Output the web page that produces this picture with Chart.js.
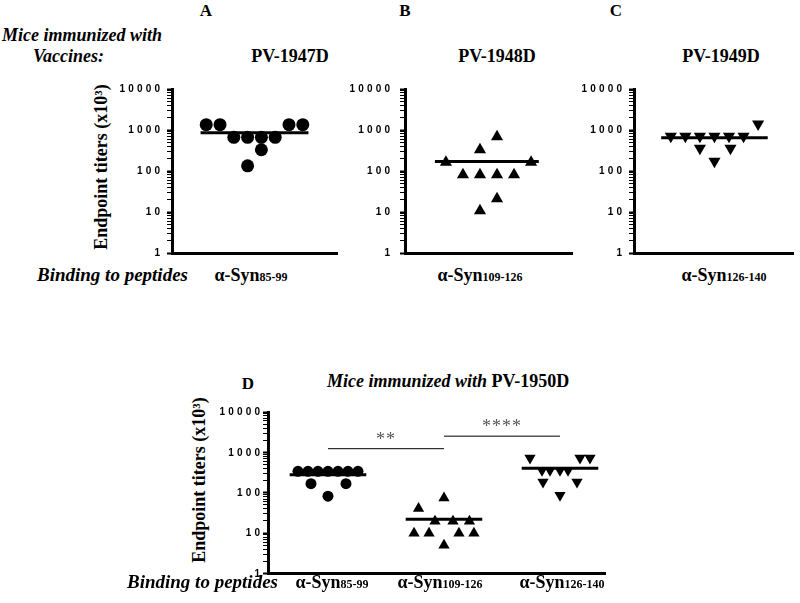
<!DOCTYPE html>
<html>
<head>
<meta charset="utf-8">
<script src="https://cdn.jsdelivr.net/npm/chart.js@4.4.1/dist/chart.umd.min.js"></script>
<style>
body { margin: 0; width: 800px; height: 603px; position: relative; overflow: hidden; background: #fff; color: #000;
       font-family: "Liberation Serif", "Times New Roman", serif; }
canvas { position: absolute; }
.t { position: absolute; white-space: nowrap; font-weight: bold; line-height: 1; font-size: 18px; }
.c { transform: translateX(-50%); }
.i { font-style: italic; }
.b19 { font-size: 19px; }
.sub { font-size: 12px; }
.yt { position: absolute; white-space: nowrap; font-weight: bold; font-size: 18px; line-height: 18px;
      transform: translate(-50%, -50%) rotate(-90deg); }
</style>
</head>
<body>
<div class="t c" style="left:206px;top:2px;font-size:17px">A</div>
<div class="t c" style="left:405px;top:2px;font-size:17px">B</div>
<div class="t c" style="left:616px;top:2px;font-size:17px">C</div>
<div class="t i" style="left:2px;top:26px">Mice immunized with</div>
<div class="t i" style="left:33px;top:47px">Vaccines:</div>
<div class="t c" style="left:290px;top:47px">PV-1947D</div>
<div class="t c" style="left:497px;top:47px">PV-1948D</div>
<div class="t c" style="left:721px;top:47px">PV-1949D</div>

<div class="yt" style="left:101px;top:167px">Endpoint titers (x10³)</div>
<canvas id="cA" width="245" height="185" style="left:100px;top:75px"></canvas>
<canvas id="cB" width="230" height="185" style="left:350px;top:75px"></canvas>
<canvas id="cC" width="220" height="185" style="left:580px;top:75px"></canvas>

<div class="t i b19" style="left:37px;top:265px">Binding to peptides</div>
<div class="t c" style="left:251px;top:266px">α-Syn<span class="sub">85-99</span></div>
<div class="t c" style="left:480px;top:266px">α-Syn<span class="sub">109-126</span></div>
<div class="t c" style="left:724px;top:266px">α-Syn<span class="sub">126-140</span></div>

<div class="t c" style="left:248px;top:375px;font-size:17px">D</div>
<div class="t" style="left:327px;top:372px"><span class="i">Mice immunized with</span> PV-1950D</div>
<div class="yt" style="left:199px;top:480px">Endpoint titers (x10³)</div>
<canvas id="cD" width="415" height="185" style="left:200px;top:395px"></canvas>

<div class="t i b19" style="left:127px;top:572px">Binding to peptides</div>
<div class="t c" style="left:332px;top:573px">α-Syn<span class="sub">85-99</span></div>
<div class="t c" style="left:440px;top:573px">α-Syn<span class="sub">109-126</span></div>
<div class="t c" style="left:562px;top:573px">α-Syn<span class="sub">126-140</span></div>

<script>
// endpoint titers (x10^3), one value per mouse
// slots = beeswarm column of each point (in marker widths from the group centre)
const titersA = [1350, 1350, 1350, 1350, 664, 664, 664, 664, 330, 134];
const slotsA  = [-3.5, -2.5, 2.5, 3.5, -1.5, -0.5, 0.5, 1.5, 0.5, -0.5];

const titersB = [163, 163, 330, 687, 81, 81, 81, 81, 21, 10.7];
const slotsB  = [-2.5, 2.5, -0.5, 0.5, -1.5, -0.5, 0.5, 1.5, 0.5, -0.5];

const titersC = [702, 702, 702, 702, 702, 702, 1400, 358, 358, 172];
const slotsC  = [-3, -2, -1, 0, 1, 2, 3, -1, 1.1, 0];

// panel D: PV-1950D sera against the three peptides
const peptidesD = ['α-Syn85-99', 'α-Syn109-126', 'α-Syn126-140'];
const titersD85  = [340, 340, 340, 340, 340, 340, 340, 168, 168, 82];
const slotsD85   = [-3, -2, -1, 0, 1, 2, 3, -1.7, 1.8, 0];
const titersD109 = [74.5, 40.7, 19.8, 19.8, 19.8, 9.9, 9.9, 9.9, 9.9, 5.0];
const slotsD109  = [0, -1.7, -0.6, 0.6, 1.7, -2, -1, 1, 2, 0];
const titersD126 = [724, 724, 724, 359, 359, 359, 359, 185, 185, 87];
const slotsD126  = [-3, 2, 3, -1.8, -1, 0, 0.8, -1.7, 1.7, 0];

// significance brackets in D
const sigPairs  = [[1, 2], [2, 3]];
const sigLevels = [1234, 2520];
const sigLabels = ['**', '****'];

// y axis
const decades = [1, 10, 100, 1000, 10000];
const isDecade = v => decades.indexOf(v) >= 0;

// minor log ticks 2..9 inside each decade
const logTicks = [];
decades.forEach((d, i) => {
    logTicks.push(d);
    if (i < decades.length - 1) for (let k = 2; k < 10; k++) logTicks.push(d * k);
});

function swarm(values, slots, center, slotW) {
    return values.map((v, i) => ({x: center + slots[i] * slotW, y: v}));
}

function meanLine(values, center, hw) {
    const m = values.reduce((s, v) => s + v, 0) / values.length;
    return [{x: center - hw, y: m}, {x: center + hw, y: m}];
}

function points(data, style, radius, rotation) {
    return {data: data, pointStyle: style, pointRadius: radius, rotation: rotation || 0,
            backgroundColor: '#000', borderColor: '#000', borderWidth: 0, showLine: false};
}

function line(data, width) {
    return {data: data, showLine: true, pointRadius: 0, borderColor: '#000', borderWidth: width};
}

// decade labels drawn by hand so the digits can be spaced out like the original
const decadeLabels = {
    id: 'decadeLabels',
    afterDraw(chart, args, opts) {
        const ctx = chart.ctx, y = chart.scales.y;
        const right = chart.chartArea.left - 5 - opts.pad;
        const ls = 3.2;
        ctx.save();
        ctx.font = 'bold 10px "Liberation Sans", Arial';
        ctx.fillStyle = '#000';
        ctx.textBaseline = 'middle';
        ctx.textAlign = 'right';
        decades.forEach(d => {
            const txt = String(d), py = y.getPixelForValue(d) + 0.5;
            if ('letterSpacing' in ctx) {
                ctx.letterSpacing = ls + 'px';
                ctx.fillText(txt, right + ls, py);
            } else {
                let px = right;
                for (let k = txt.length - 1; k >= 0; k--) {
                    ctx.fillText(txt[k], px, py);
                    px -= ctx.measureText(txt[k]).width + ls;
                }
            }
        });
        ctx.restore();
    }
};

const sigStars = {
    id: 'sigStars',
    afterDatasetsDraw(chart) {
        const ctx = chart.ctx, x = chart.scales.x, y = chart.scales.y;
        ctx.save();
        ctx.font = '18px "Liberation Serif"';
        if ('letterSpacing' in ctx) ctx.letterSpacing = '1px';
        ctx.fillStyle = '#555';
        ctx.textAlign = 'center';
        sigPairs.forEach((p, i) => {
            ctx.fillText(sigLabels[i], x.getPixelForValue((p[0] + p[1]) / 2), y.getPixelForValue(sigLevels[i]) - 4);
        });
        ctx.restore();
    }
};

function panel(id, yWidth, tickPad, pad, xMin, xMax, datasets, extra) {
    return new Chart(document.getElementById(id), {
        type: 'scatter',
        data: {datasets: datasets},
        options: {
            responsive: false,
            animation: false,
            events: [],
            layout: {padding: pad},
            plugins: {legend: {display: false}, tooltip: {enabled: false}, decadeLabels: {pad: tickPad}},
            scales: {
                x: {
                    type: 'linear', min: xMin, max: xMax,
                    ticks: {display: false},
                    grid: {display: false, drawTicks: false},
                    border: {color: '#000', width: 3}
                },
                y: {
                    type: 'logarithmic', min: 1, max: 10000,
                    afterBuildTicks: s => { s.ticks = logTicks.map(v => ({value: v, major: isDecade(v)})); },
                    afterFit: s => { s.width = yWidth; },
                    ticks: {display: false, autoSkip: false},
                    grid: {
                        drawOnChartArea: false, tickLength: 5, tickColor: '#000',
                        tickWidth: c => (c.tick && isDecade(c.tick.value)) ? 2 : 1
                    },
                    border: {color: '#000', width: 3}
                }
            }
        },
        plugins: [decadeLabels].concat(extra || [])
    });
}

panel('cA', 72, 7, {left: 0, top: 14, right: 8, bottom: 7}, 0, 1, [
    points(swarm(titersA, slotsA, 0.5, 0.0836), 'circle', 6.5),
    line(meanLine(titersA, 0.5, 0.327), 3)
]);

panel('cB', 55, 10, {left: 0, top: 14, right: 8, bottom: 7}, 0, 1, [
    points(swarm(titersB, slotsB, 0.5, 0.102), 'triangle', 7),
    line(meanLine(titersB, 0.49, 0.311), 3)
]);

panel('cC', 54, 7, {left: 0, top: 14, right: 2, bottom: 7}, 0, 1, [
    points(swarm(titersC, slotsC, 0.506, 0.0915), 'triangle', 7, 180),
    line(meanLine(titersC, 0.506, 0.335), 3)
]);

panel('cD', 68, 3, {left: 0, top: 17, right: 10, bottom: 6.5}, 0.483, 3.388, [
    points(swarm(titersD85, slotsD85, 1, 0.0862), 'circle', 5.5),
    line(meanLine(titersD85, 1, 0.33), 3),
    points(swarm(titersD109, slotsD109, 2, 0.129), 'triangle', 6.5),
    line(meanLine(titersD109, 2, 0.33), 3),
    points(swarm(titersD126, slotsD126, 3, 0.0862), 'triangle', 6.5, 180),
    line(meanLine(titersD126, 3, 0.33), 3),
    line(sigPairs[0].map(v => ({x: v, y: sigLevels[0]})), 1),
    line(sigPairs[1].map(v => ({x: v, y: sigLevels[1]})), 1)
], [sigStars]);
</script>
</body>
</html>
